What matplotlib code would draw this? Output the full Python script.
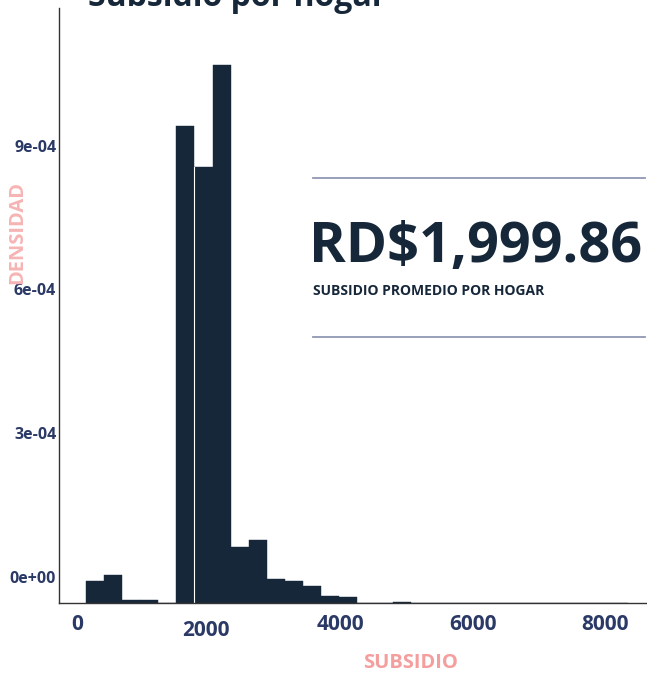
import matplotlib
matplotlib.use("Agg")
import matplotlib.pyplot as plt
import matplotlib.transforms as mtransforms
import numpy as np

# Histogram of household subsidy (density), 30 bins
bin_start = 136
bin_width = 274
density = [4.6e-5, 5.8e-5, 5.6e-6, 6.3e-6, 0.0,
           9.96e-4, 9.10e-4, 1.123e-3, 1.17e-4, 1.31e-4,
           4.95e-5, 4.6e-5, 3.55e-5, 1.46e-5, 1.25e-5,
           1.0e-6, 0.0, 2.7e-6, 0.0, 0.0,
           0.0, 0.0, 0.0, 0.0, 0.0,
           0.0, 0.0, 0.0, 0.0, 0.0]
x_ticks = [0, 2000, 4000, 6000, 8000]
y_ticks = [0, 3e-4, 6e-4, 9e-4]
y_tick_labels = ["0e+00", "3e-04", "6e-04", "9e-04"]
mean_label = "RD$1,999.86"

NAVY = "#16273a"
TICK = "#2b3966"
PINK = "#f59e9e"
RULE = "#8f97b4"
FONT = "Open Sans"

edges = bin_start + bin_width * np.arange(len(density))

fig = plt.figure(figsize=(6.47, 6.73), dpi=100)
ax = fig.add_axes([59 / 647, 70 / 673, 590 / 647, 595 / 673])

ax.bar(edges, density, width=bin_width, align="edge", color=NAVY,
       edgecolor=NAVY, linewidth=0.3)
# thin white seam seen between the two tallest neighbours
ax.axvline(edges[6], ymin=0, ymax=density[6] / 1.2424e-3, color="white", lw=0.8)

ax.set_xlim(-273, 8670)
ax.set_ylim(0, 1.2424e-3)

for side in ["top", "right"]:
    ax.spines[side].set_visible(False)
for side in ["left", "bottom"]:
    ax.spines[side].set_color("#333333")
    ax.spines[side].set_linewidth(1.0)

ax.set_xticks(x_ticks)
ax.set_xticklabels([str(t) for t in x_ticks])
ax.set_yticks(y_ticks)
ax.set_yticklabels(y_tick_labels)
ax.tick_params(axis="both", length=0)
ax.tick_params(axis="x", pad=8)
ax.tick_params(axis="y", pad=2)

for lab in ax.get_xticklabels():
    lab.set_fontfamily(FONT)
    lab.set_fontweight("bold")
    lab.set_fontsize(15)
    lab.set_color(TICK)
    if lab.get_text() == "2000":
        lab.set_transform(lab.get_transform() + mtransforms.ScaledTranslation(-2 / 72, -4 / 72, fig.dpi_scale_trans))
for lab in ax.get_yticklabels():
    lab.set_fontfamily(FONT)
    lab.set_fontweight("bold")
    lab.set_fontsize(11.5)
    lab.set_color(TICK)
    lab.set_transform(lab.get_transform() + mtransforms.ScaledTranslation(0, 19 / 72, fig.dpi_scale_trans))

# title (cut off at the top edge, as in the original)
fig.text(237 / 647, 1 - 6 / 673, "Subsidio por hogar", ha="center", va="baseline",
         fontsize=23, fontweight="bold", color=NAVY, fontfamily=FONT)

# axis titles
fig.text(17 / 647, 1 - 233 / 673, "DENSIDAD", rotation=90, ha="center", va="center",
         fontsize=14.5, fontweight="bold", color="#f7b4b4", fontfamily=FONT)
fig.text(410 / 647, 1 - 663 / 673, "SUBSIDIO", ha="center", va="center",
         fontsize=14.5, fontweight="bold", color=PINK, fontfamily=FONT)

# mean callout
fig.add_artist(plt.Line2D([313 / 647, 645 / 647], [1 - 178 / 673] * 2, color=RULE, lw=1.3))
fig.add_artist(plt.Line2D([313 / 647, 645 / 647], [1 - 337 / 673] * 2, color=RULE, lw=1.3))
fig.text(309 / 647, 1 - 262 / 673, mean_label, ha="left", va="baseline",
         fontsize=40.2, fontweight="bold", color=NAVY, fontfamily=FONT)
fig.text(313 / 647, 1 - 291 / 673, "SUBSIDIO PROMEDIO POR HOGAR", ha="left", va="center",
         fontsize=10, fontweight="bold", color=NAVY, fontfamily=FONT)

fig.savefig("out.png", dpi=100)
